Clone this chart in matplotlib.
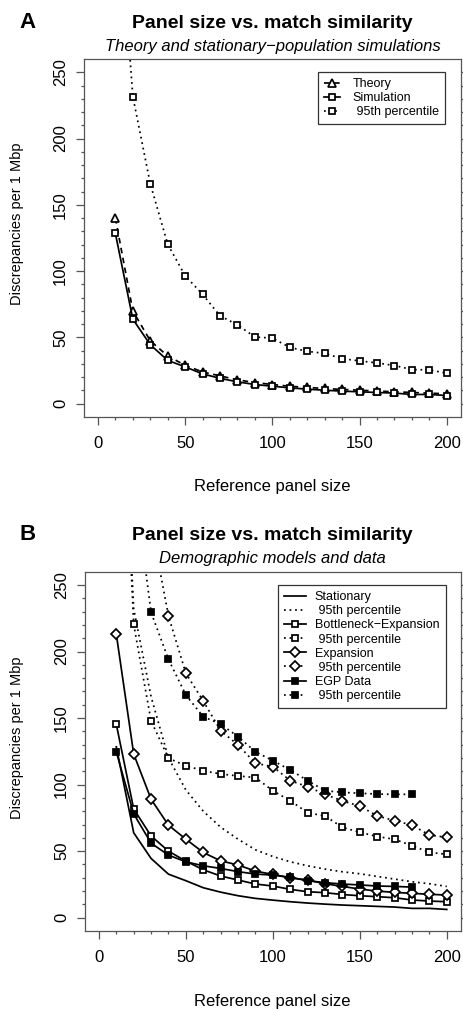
import matplotlib
matplotlib.use("Agg")
import matplotlib.pyplot as plt
from matplotlib.lines import Line2D
from matplotlib.ticker import FixedLocator

plt.rcParams['font.family'] = ['Liberation Sans', 'DejaVu Sans']

# reference panel sizes
panel = [10, 20, 30, 40, 50, 60, 70, 80, 90, 100,
         110, 120, 130, 140, 150, 160, 170, 180, 190, 200]
panel_egp = panel[:18]

# panel A
theory = [140, 70, 47.5, 36, 29, 24, 21, 18, 16, 14.5,
          13.2, 12.3, 11.5, 10.8, 10.2, 9.6, 9, 8.5, 8, 7.5]
simulation = [128.4, 63.8, 44.5, 32.7, 27.8, 22.5, 19.2, 16.5, 14.5, 13.2,
              12, 11, 10.2, 9.5, 9, 8.5, 8, 7, 7, 6.2]
sim_95 = [410, 231.7, 165.9, 120.3, 96.5, 82.5, 66.3, 59.5, 50.3, 49.5,
          42.5, 39.5, 38, 34, 32.3, 30.8, 28.8, 25.8, 25.5, 23]

# panel B
stationary = simulation
stationary_95 = [500, 232, 166, 120, 96, 80, 68, 59, 51, 46,
                 42, 39, 36.5, 34.5, 33, 31, 29, 27, 25.5, 23.5]
bneck = [145.3, 81.7, 61.4, 50, 42.5, 36, 31.3, 28.3, 25.3, 23.8,
         21.3, 19.5, 18.8, 17.4, 16.5, 15.8, 15, 13.3, 12.5, 12]
bneck_95 = [500, 220.4, 147.8, 119.8, 114.2, 110.4, 108, 106.5, 105.3, 95.4,
            87.9, 78.9, 76.4, 67.9, 64.2, 61, 58.9, 54.1, 49.1, 47.6]
expansion = [213, 123, 89, 69.5, 59, 49, 42.7, 39.6, 35, 32.5,
             30, 28.3, 25.5, 23.5, 21.5, 20, 19, 18.3, 17.6, 17]
expansion_95 = [560, 400, 296, 226.7, 183.6, 162.8, 140.5, 129.8, 116, 113.5,
                103, 98.4, 92.7, 87.7, 83.9, 76.5, 72.9, 69.6, 62.1, 60.4]
egp = [124.7, 78, 56, 47, 42, 39, 37, 34.6, 32.8, 32,
       30.3, 27.8, 26.3, 25.3, 24.6, 23.8, 23.5, 23]
egp_95 = [520, 330, 229.4, 194.1, 167.3, 151, 145.5, 136, 124.7, 118,
          111, 103, 95.4, 94.2, 93.5, 92.9, 92.7, 92.7]

W, H = 464, 1011
fig = plt.figure(figsize=(W / 100, H / 100), dpi=100)

LW = 1.25
DOT = (0, (1, 2.2))
DASH = (0, (3.2, 2.6))
GRAY = '#555555'


def px(x, y):
    return x / W, 1 - y / H


def style(**kw):
    d = dict(color='black', lw=LW, mew=1.25, mec='black', mfc='white')
    d.update(kw)
    return d


sq = dict(marker='s', ms=5.0)
dia = dict(marker='D', ms=4.8)
tri = dict(marker='^', ms=6.2)


def setup(ax):
    ax.set_xlim(-8, 208)
    ax.set_ylim(-10, 260)
    ax.xaxis.set_major_locator(FixedLocator([0, 50, 100, 150, 200]))
    ax.xaxis.set_minor_locator(FixedLocator(range(0, 201, 10)))
    ax.yaxis.set_major_locator(FixedLocator([0, 50, 100, 150, 200, 250]))
    ax.yaxis.set_minor_locator(FixedLocator(range(0, 251, 10)))
    for s in ax.spines.values():
        s.set_color(GRAY)
        s.set_linewidth(0.9)
    ax.tick_params(which='both', direction='out', color=GRAY, width=0.9,
                   right=True, labelsize=12)
    ax.tick_params(which='major', length=5.5)
    ax.tick_params(which='minor', length=2.5)
    ax.tick_params(axis='x', pad=8)
    ax.tick_params(axis='y', pad=6)
    for t in ax.get_yticklabels():
        t.set_rotation(90)
        t.set_va('center')


def titles(y0, sub, letter):
    fig.text(*px(272.5, y0), 'Panel size vs. match similarity', ha='center',
             va='baseline', fontsize=14, fontweight='bold')
    fig.text(*px(272.5, y0 + 22.5), sub, ha='center', va='baseline',
             fontsize=12, style='italic')
    fig.text(*px(27.5, y0), letter, ha='center', va='baseline',
             fontsize=16, fontweight='bold')


def legend(ax, handles, labels, anchor, hlen, hpad):
    leg = ax.legend(handles, labels, loc='upper right', bbox_to_anchor=anchor,
                    borderaxespad=0, fontsize=9, frameon=True, fancybox=False,
                    edgecolor='#333333', framealpha=1, handlelength=hlen,
                    handletextpad=hpad, labelspacing=0.17, borderpad=0.5)
    leg.get_frame().set_linewidth(0.9)


# ---------- panel A ----------
ax1 = fig.add_axes([84 / W, 1 - 417 / H, 376.7 / W, 358 / H])
setup(ax1)
ax1.plot(panel, sim_95, ls=DOT, **style(**sq))
ax1.plot(panel, theory, ls=DASH, **style(**tri))
ax1.plot(panel, simulation, ls='-', **style(**sq))

hA = [Line2D([], [], ls=DASH, **style(**tri)),
      Line2D([], [], ls='-', **style(**sq)),
      Line2D([], [], ls=DOT, **style(**sq))]
legend(ax1, hA, ['Theory', 'Simulation', ' 95th percentile'],
       (0.958, 0.9645), 1.3, 1.0)

titles(28.3, 'Theory and stationary\u2212population simulations', 'A')
fig.text(*px(272.5, 491), 'Reference panel size', ha='center', va='baseline',
         fontsize=12)
fig.text(*px(16.7, 224), 'Discrepancies per 1 Mbp', ha='center', va='center',
         rotation=90, fontsize=10.5)

# ---------- panel B ----------
ax2 = fig.add_axes([85 / W, 1 - 931 / H, 375.7 / W, 359.3 / H])
setup(ax2)
ax2.plot(panel, stationary_95, ls=DOT, **style())
ax2.plot(panel, bneck_95, ls=DOT, **style(**sq))
ax2.plot(panel, expansion_95, ls=DOT, **style(**dia))
ax2.plot(panel_egp, egp_95, ls=DOT, **style(mfc='black', **sq))
ax2.plot(panel, stationary, ls='-', **style())
ax2.plot(panel, bneck, ls='-', **style(**sq))
ax2.plot(panel, expansion, ls='-', **style(**dia))
ax2.plot(panel_egp, egp, ls='-', **style(mfc='black', **sq))

hB = [Line2D([], [], ls='-', **style()),
      Line2D([], [], ls=DOT, **style()),
      Line2D([], [], ls='-', **style(**sq)),
      Line2D([], [], ls=DOT, **style(**sq)),
      Line2D([], [], ls='-', **style(**dia)),
      Line2D([], [], ls=DOT, **style(**dia)),
      Line2D([], [], ls='-', **style(mfc='black', **sq)),
      Line2D([], [], ls=DOT, **style(mfc='black', **sq))]
labB = ['Stationary', ' 95th percentile', 'Bottleneck\u2212Expansion',
        ' 95th percentile', 'Expansion', ' 95th percentile', 'EGP Data',
        ' 95th percentile']
legend(ax2, hB, labB, (0.960, 0.963), 1.75, 0.7)

titles(540, 'Demographic models and data', 'B')
fig.text(*px(272.5, 1006), 'Reference panel size', ha='center',
         va='baseline', fontsize=12)
fig.text(*px(16.7, 738), 'Discrepancies per 1 Mbp', ha='center', va='center',
         rotation=90, fontsize=10.5)

fig.savefig('out.png', dpi=100)
